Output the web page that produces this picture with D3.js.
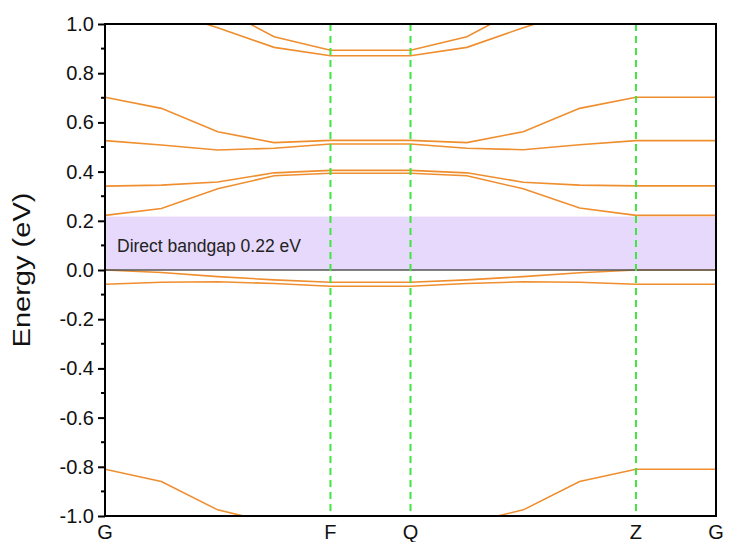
<!DOCTYPE html>
<html>
<head>
<meta charset="utf-8">
<script src="https://cdn.jsdelivr.net/npm/d3@7"></script>
<style>
  body { margin: 0; background: #fff; }
  text { font-family: Arial, "Liberation Sans", sans-serif; }
</style>
</head>
<body>
<div class="chart"></div>
<script>
// path coordinate of every k-point along G-F-Q-Z-G
var kPath = [0, 1, 2, 3, 4, 5.42, 6.42, 7.42, 8.42, 9.42, 10.84];

// high symmetry points
var kLabels = ["G", "F", "Q", "Z", "G"];
var kLabelPos = [0, 4, 5.42, 9.42, 10.84];

// band energies (eV), one value per k-point
var band1 = [-0.81, -0.86, -0.975, -1.03, -1.06, -1.06, -1.03, -0.975, -0.86, -0.81, -0.81];
var band2 = [-0.058, -0.05, -0.048, -0.055, -0.066, -0.066, -0.055, -0.048, -0.05, -0.058, -0.058];
var band3 = [0.0, -0.01, -0.027, -0.04, -0.05, -0.05, -0.04, -0.027, -0.011, 0.0, 0.0];
var band4 = [0.222, 0.25, 0.33, 0.383, 0.393, 0.393, 0.383, 0.33, 0.252, 0.222, 0.222];
var band5 = [0.341, 0.345, 0.358, 0.395, 0.405, 0.405, 0.395, 0.357, 0.345, 0.342, 0.342];
var band6 = [0.526, 0.508, 0.488, 0.495, 0.512, 0.512, 0.495, 0.489, 0.509, 0.526, 0.526];
var band7 = [0.702, 0.657, 0.562, 0.518, 0.527, 0.527, 0.518, 0.562, 0.657, 0.702, 0.702];
var band8 = [1.2, 1.057, 0.985, 0.905, 0.871, 0.871, 0.905, 0.985, 1.057, 1.2, 1.2];
var band9 = [1.3, 1.14, 1.07, 0.948, 0.893, 0.893, 0.948, 1.07, 1.14, 1.3, 1.3];
var bands = [band1, band2, band3, band4, band5, band6, band7, band8, band9];

var gap = 0.217;
var gapText = "Direct bandgap 0.22 eV";
var yTicks = [-1.0, -0.8, -0.6, -0.4, -0.2, 0.0, 0.2, 0.4, 0.6, 0.8, 1.0];
var yMinor = [-0.9, -0.7, -0.5, -0.3, -0.1, 0.1, 0.3, 0.5, 0.7, 0.9];

var margin = { top: 24, right: 13, bottom: 26, left: 105 },
  width = 729 - margin.left - margin.right,
  height = 542 - margin.top - margin.bottom;

var x = d3.scaleLinear().domain([0, 10.84]).range([0, width]);
var y = d3.scaleLinear().domain([-1, 1]).range([height, 0]);

var svg = d3
  .select(".chart")
  .append("svg")
  .attr("width", 729)
  .attr("height", 542)
  .append("g")
  .attr("transform", "translate(" + margin.left + "," + margin.top + ")");

svg
  .append("defs")
  .append("clipPath")
  .attr("id", "clip")
  .append("rect")
  .attr("width", width)
  .attr("height", height);

var plot = svg.append("g").attr("clip-path", "url(#clip)");

// shaded gap
plot
  .append("rect")
  .attr("x", 0)
  .attr("y", y(gap))
  .attr("width", width)
  .attr("height", y(0) - y(gap))
  .attr("fill", "#e7d9fb");

var line = d3
  .line()
  .x(function(d, i) { return x(kPath[i]); })
  .y(function(d) { return y(d); });

plot
  .selectAll(".band")
  .data(bands)
  .enter()
  .append("path")
  .attr("class", "band")
  .attr("d", line)
  .attr("fill", "none")
  .attr("stroke", "#ef8e2e")
  .attr("stroke-width", 1.6);

// fermi level
plot
  .append("line")
  .attr("x1", 0)
  .attr("x2", width)
  .attr("y1", y(0))
  .attr("y2", y(0))
  .attr("stroke", "#555")
  .attr("stroke-width", 1.6);

// inner high symmetry lines
plot
  .selectAll(".kline")
  .data(kLabelPos.slice(1, -1))
  .enter()
  .append("line")
  .attr("class", "kline")
  .attr("x1", function(d) { return x(d); })
  .attr("x2", function(d) { return x(d); })
  .attr("y1", 0)
  .attr("y2", height)
  .attr("stroke", "#3fe63f")
  .attr("stroke-width", 2)
  .attr("stroke-dasharray", "7,5");

plot
  .append("text")
  .attr("x", 12)
  .attr("y", y(0.075))
  .attr("font-size", 17.5)
  .attr("fill", "#222")
  .text(gapText);

// y axis, plain hyphen for negatives like the original
var yAxis = d3.axisLeft(y)
  .tickValues(yTicks)
  .tickFormat(function(d) { return d.toFixed(1); })
  .tickSize(7)
  .tickPadding(4);

var ya = svg.append("g").call(yAxis);
ya.select(".domain").remove();
ya.selectAll("line").attr("stroke", "#000").attr("stroke-width", 2);
ya.selectAll("text").attr("font-size", 20).attr("fill", "#111")
  .attr("font-family", "Arial, 'Liberation Sans', sans-serif");

svg.append("g")
  .selectAll("line")
  .data(yMinor)
  .enter()
  .append("line")
  .attr("x1", -4)
  .attr("x2", 0)
  .attr("y1", function(d) { return y(d); })
  .attr("y2", function(d) { return y(d); })
  .attr("stroke", "#000")
  .attr("stroke-width", 2);

// frame
svg
  .append("rect")
  .attr("width", width)
  .attr("height", height)
  .attr("fill", "none")
  .attr("stroke", "#000")
  .attr("stroke-width", 2);

// k labels
svg
  .selectAll(".klabel")
  .data(kLabels)
  .enter()
  .append("text")
  .attr("class", "klabel")
  .attr("x", function(d, i) { return x(kLabelPos[i]); })
  .attr("y", height + 23)
  .attr("text-anchor", "middle")
  .attr("font-size", 20)
  .attr("fill", "#111")
  .text(function(d) { return d; });

svg
  .append("text")
  .attr("transform", "translate(" + (-75) + "," + y(0) + ") rotate(-90)")
  .attr("text-anchor", "middle")
  .attr("font-size", 23)
  .attr("textLength", 155)
  .attr("lengthAdjust", "spacingAndGlyphs")
  .attr("fill", "#111")
  .text("Energy (eV)");
</script>
</body>
</html>
